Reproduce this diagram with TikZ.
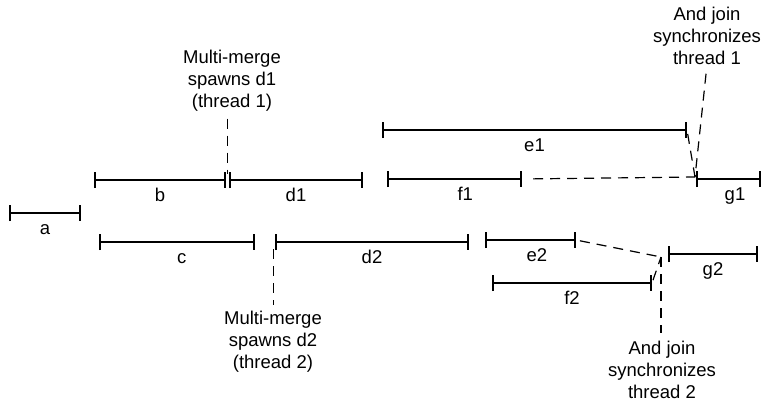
\documentclass[tikz,border=0pt]{standalone}
\usepackage{fontspec}
\setmainfont{Liberation Sans}
\usetikzlibrary{arrows.meta,positioning}

\begin{document}
\begin{tikzpicture}[x=1pt,y=-1pt,
      seg/.style={line width=1.6pt,{Bar[width=16pt]}-{Bar[width=16pt]}},
      lbl/.style={anchor=base,yshift=-21pt,inner sep=0pt,font=\fontsize{18.5}{21}\selectfont},
      note/.style={align=center,inner sep=0pt,font=\fontsize{18.5}{21.8}\selectfont},
      link/.style={line width=1.2pt,dash pattern=on 10pt off 7pt}]
      \useasboundingbox (0,0) rectangle (762,401);
      % name/start/end/height/label position
      \foreach \n/\xa/\xb/\y/\p in {a/9/81/213/.5, b/94/226/180/.5, d1/229/363/180/.5,
          c/99/255/242/.53, d2/275/469/242/.5, e1/382/687/130/.5, f1/387/522/179/.58,
          g1/696/761/179/.6, e2/485/576/240/.57, f2/492/652/283/.5, g2/668/758/254/.5}
        {\coordinate (\n-s) at (\xa,\y);
         \coordinate (\n-e) at (\xb,\y);
         \draw[seg] (\n-s) -- node[lbl,pos=\p] (\n) {\n} (\n-e);}
      \node[note] (spawn1) at (232,81) {Multi-merge\\spawns d1\\(thread 1)};
      \node[note] (spawn2) at (273,342) {Multi-merge\\spawns d2\\(thread 2)};
      \node[note] (sync1) at (707,36) {And join\\synchronizes\\thread 1};
      \node[note] (sync2) at (662,370) {And join\\synchronizes\\thread 2};
      \coordinate (fork1) at (227.5,174);
      \coordinate (fork2) at (273.5,249);
      \coordinate (join1) at (695,177);
      \coordinate (join2) at (661,257);
      \draw[link,shorten <=7pt] (spawn1.south -| fork1) -- (fork1);
      \draw[link,shorten >=6pt] (fork2) -- (spawn2.north -| fork2);
      \draw[link,shorten <=11pt] (f1-e) -- (join1);
      \draw[link,shorten <=4pt] (e1-e) -- (join1);
      \draw[link,shorten <=9pt] (sync1.south) -- (join1);
      \draw[link,shorten <=4pt] (e2-e) -- (join2);
      \draw[link,shorten <=3pt] (f2-e) -- (join2);
      \draw[link,shorten >=8pt] (join2) -- (sync2.north -| join2);
    \end{tikzpicture}
\end{document}
